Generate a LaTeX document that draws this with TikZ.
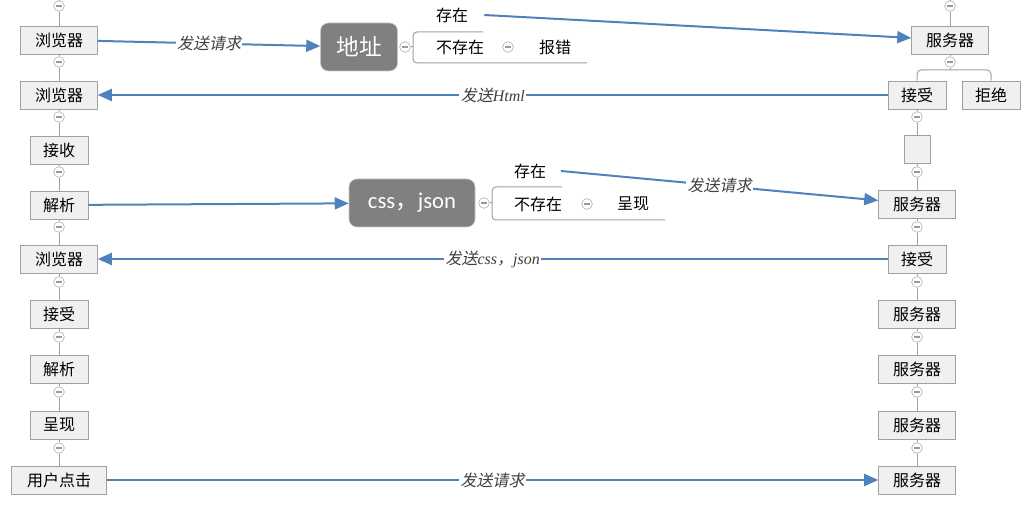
\documentclass[tikz,border=0pt]{standalone}
\usepackage{fontspec}
\usepackage{xcolor}
\usepackage{tikz}
\usetikzlibrary{positioning,calc,arrows.meta}
\newfontfamily\cjk{Noto Sans CJK SC}
\newfontfamily\cjkit[FakeSlant=0.2]{Noto Sans CJK SC}
\newfontfamily\enit{Liberation Serif}
\newfontfamily\carl{Carlito}
\definecolor{boxfill}{HTML}{F0F0F0}
\definecolor{boxline}{HTML}{A0A0A0}
\definecolor{topicfill}{HTML}{808080}
\definecolor{linkblue}{HTML}{4F81BD}
\definecolor{togline}{HTML}{A6A6A6}
\definecolor{togminus}{HTML}{8C9CB8}
\definecolor{labtext}{HTML}{404040}
\tikzset{
  box/.style={draw=boxline, fill=boxfill, inner sep=0pt, minimum width=43.5pt, minimum height=21pt, font=\cjk\fontsize{12}{12}\selectfont},
  wide/.style={minimum width=57.75pt},
  plain/.style={inner sep=3pt, font=\cjk\fontsize{12}{12}\selectfont},
  topic/.style={draw=boxline!60, fill=topicfill, rounded corners=6pt, text=white, inner sep=0pt, minimum height=36pt, font=\cjk\fontsize{17}{17}\selectfont},
  tog/.style={circle, draw=togline, fill=white, minimum size=8pt, inner sep=0pt,
    path picture={\draw[togminus, line width=0.8pt] ([xshift=-2pt]path picture bounding box.center) -- ([xshift=2pt]path picture bounding box.center);}},
  conn/.style={draw=boxline, line width=0.75pt},
  link/.style={draw=linkblue, line width=1.5pt, -{Triangle[length=10.5pt,width=9pt]}},
  lab/.style={fill=white, inner sep=1pt, text=labtext, font=\cjkit\fontsize{12}{12}\selectfont}
}
\begin{document}
\begin{tikzpicture}[x=0.75pt,y=-0.75pt]
    \useasboundingbox (0,0) rectangle (1035,520);
    % left column
    \coordinate (ltop) at (59,0);
    \node[tog] (l0) at (59,6) {};
    \node[box,wide] (b1) at (59,40) {浏览器};
    \node[tog] (l1) at (59,62) {};
    \node[box,wide] (b2) at (59,95) {浏览器};
    \node[tog] (l2) at (59,117) {};
    \node[box] (recv) at (59,150) {接收};
    \node[tog] (l3) at (59,172) {};
    \node[box] (parse1) at (59,205) {解析};
    \node[tog] (l4) at (59,227) {};
    \node[box,wide] (b3) at (59,259) {浏览器};
    \node[tog] (l5) at (59,282) {};
    \node[box] (acc) at (59,314) {接受};
    \node[tog] (l6) at (59,337) {};
    \node[box] (parse2) at (59,369) {解析};
    \node[tog] (l7) at (59,392) {};
    \node[box] (show1) at (59,425) {呈现};
    \node[tog] (l8) at (59,448) {};
    \node[box,minimum width=71.25pt] (click) at (59,480) {用户点击};
    \draw[conn] (ltop) -- (l0) -- (b1) -- (l1) -- (b2) -- (l2) -- (recv) -- (l3) -- (parse1) -- (l4) -- (b3) -- (l5) -- (acc) -- (l6) -- (parse2) -- (l7) -- (show1) -- (l8) -- (click);

    % right column
    \coordinate (rtop) at (950,0);
    \node[tog] (r0) at (950,6) {};
    \node[box,wide] (srv1) at (950,40) {服务器};
    \node[tog] (r1) at (950,62) {};
    \coordinate (fork) at (950,70);
    \node[box] (acc1) at (917,95) {接受};
    \node[box] (deny) at (991,95) {拒绝};
    \node[tog] (r2) at (917,117) {};
    \node[box,minimum width=19.5pt] (blank) at (917,149) {};
    \node[tog] (r3) at (917,172) {};
    \node[box,wide] (srv2) at (917,204) {服务器};
    \node[tog] (r4) at (917,227) {};
    \node[box] (acc2) at (917,259) {接受};
    \node[tog] (r5) at (917,282) {};
    \node[box,wide] (srv3) at (917,314) {服务器};
    \node[tog] (r6) at (917,337) {};
    \node[box,wide] (srv4) at (917,369) {服务器};
    \node[tog] (r7) at (917,392) {};
    \node[box,wide] (srv5) at (917,425) {服务器};
    \node[tog] (r8) at (917,448) {};
    \node[box,wide] (srv6) at (917,480) {服务器};
    \draw[conn] (rtop) -- (r0) -- (srv1) -- (r1) -- (fork);
    \draw[conn,rounded corners=3pt] (acc1.north) |- (fork) -| (deny.north);
    \draw[conn] (acc1) -- (r2) -- (blank) -- (r3) -- (srv2) -- (r4) -- (acc2) -- (r5) -- (srv3) -- (r6) -- (srv4) -- (r7) -- (srv5) -- (r8) -- (srv6);

    % address topic
    \node[topic,minimum width=57.75pt] (addr) at (359,47) {地址};
    \node[tog] (m1) at (405,47) {};
    \node[plain] (no1) at (460,47) {不存在};
    \node[tog] (m2) at (508,47) {};
    \node[plain] (err) at (555,47) {报错};
    \node[plain] (yes1) at (452,15) {存在};
    \draw[conn] (m1) -- (413,47);
    \draw[conn,rounded corners=3pt] (483,32) -- (413,32) -- (413,63) -- (587,63);

    % resource topic
    \node[topic,minimum width=94.5pt] (res) at (412,203) {{\carl css}，{\carl json}};
    \node[tog] (m3) at (484,203) {};
    \node[plain] (no2) at (538,204) {不存在};
    \node[tog] (m4) at (587,204) {};
    \node[plain] (show2) at (633,204) {呈现};
    \node[plain] (yes2) at (530,171) {存在};
    \draw[conn] (m3) -- (492,203);
    \draw[conn,rounded corners=3pt] (562,187) -- (492,187) -- (492,220) -- (665,220);

    % requests and replies
    \draw[link] (b1) -- (addr) node[lab,midway] {发送请求};
    \draw[link] ([xshift=9pt]yes1.east) -- (srv1);
    \draw[link] (acc1) -- (b2) node[lab,midway] {发送{\enit\itshape Html}};
    \draw[link] (parse1) -- (res);
    \draw[link] ([xshift=8pt]yes2.east) -- (srv2) node[lab,midway] {发送请求};
    \draw[link] (acc2) -- (b3) node[lab,midway] {发送{\enit\itshape css}，{\enit\itshape json}};
    \draw[link] (click) -- (srv6) node[lab,midway] {发送请求};
\end{tikzpicture}
\end{document}
